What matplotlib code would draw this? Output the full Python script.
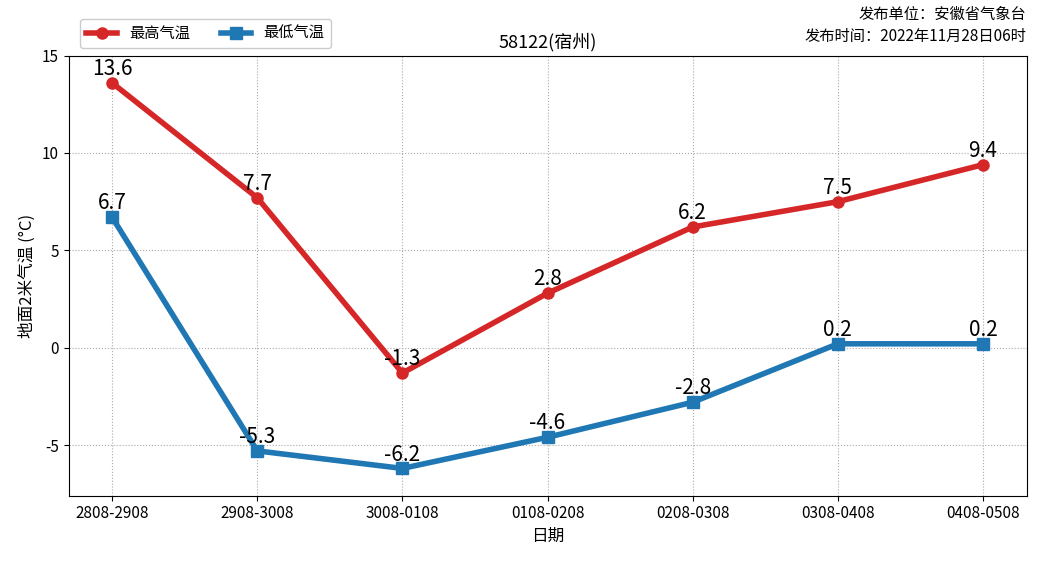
import matplotlib
matplotlib.use("Agg")
import matplotlib.pyplot as plt

plt.rcParams["font.family"] = ["Noto Sans CJK SC", "DejaVu Sans"]
plt.rcParams["axes.unicode_minus"] = False

dates = ["2808-2908", "2908-3008", "3008-0108", "0108-0208", "0208-0308", "0308-0408", "0408-0508"]
tmax = [13.6, 7.7, -1.3, 2.8, 6.2, 7.5, 9.4]
tmin = [6.7, -5.3, -6.2, -4.6, -2.8, 0.2, 0.2]

fig = plt.figure(figsize=(10.39, 5.62), dpi=100)
ax = fig.add_axes([0.066, 0.118, 0.922, 0.783])
x = list(range(len(dates)))
l1, = ax.plot(x, tmax, color="#d62728", lw=4, marker="o", ms=8, label="最高气温")
l2, = ax.plot(x, tmin, color="#1f77b4", lw=4, marker="s", ms=8, label="最低气温")
for xi, v in zip(x, tmax):
    ax.text(xi, v + 0.15, f"{v}", ha="center", va="bottom", fontsize=15)
for xi, v in zip(x, tmin):
    ax.text(xi, v + 0.15, f"{v}", ha="center", va="bottom", fontsize=15)

ax.set_xticks(x)
ax.set_xticklabels(dates, fontsize=11)
ax.set_xlim(-0.3, 6.3)
ax.set_ylim(-7.6, 15)
ax.set_yticks([-5, 0, 5, 10, 15])
ax.tick_params(labelsize=11)
ax.grid(True, linestyle=":", color="#aaaaaa")
ax.set_xlabel("日期", fontsize=12)
ax.set_ylabel("地面2米气温 (°C)", fontsize=12)
ax.set_title("58122(宿州)", fontsize=13)
fig.legend(handles=[l1, l2], loc="upper left", bbox_to_anchor=(0.07, 0.98), ncol=2, fontsize=11, framealpha=1)
fig.text(0.988, 0.955, "发布单位：安徽省气象台\n发布时间：2022年11月28日06时", ha="right", va="center", fontsize=11, linespacing=1.4)

fig.savefig("out.png", dpi=100)
